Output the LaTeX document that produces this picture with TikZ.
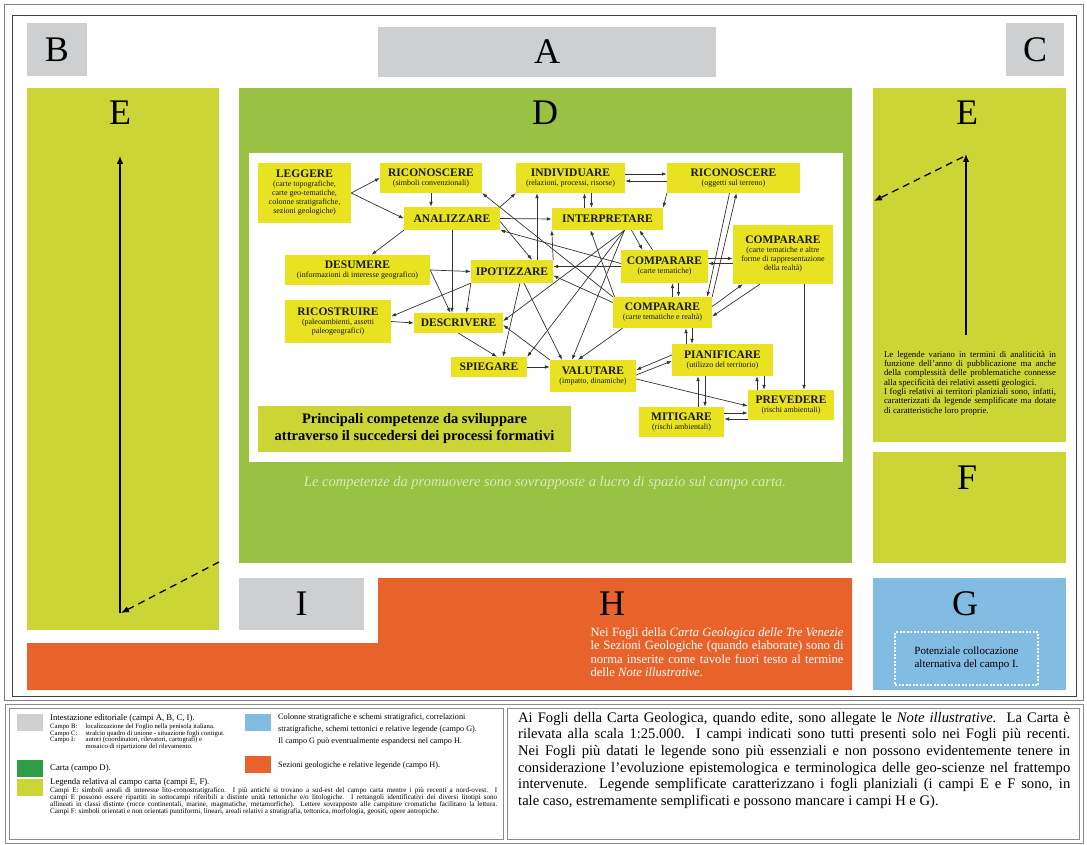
\documentclass[tikz,border=0pt]{standalone}
\usepackage{fontspec}
\setmainfont{Liberation Serif}
\usetikzlibrary{arrows.meta}

\definecolor{campogrigio}{HTML}{CDCFD0}
\definecolor{campolegenda}{HTML}{CCD536}
\definecolor{campocarta}{HTML}{99C143}
\definecolor{camposezioni}{HTML}{E8632C}
\definecolor{campocolonne}{HTML}{82BCE3}
\definecolor{giallo}{HTML}{E8E220}
\definecolor{verdecarta}{HTML}{2E9D45}

\newcommand{\verbo}[1]{{\fontsize{11.5}{13}\selectfont\bfseries #1}}

\tikzset{
  campo/.style={inner sep=0pt, outer sep=0pt},
  lettera/.style={font=\fontsize{36}{36}\selectfont, inner sep=0pt},
  competenza/.style={fill=giallo, inner sep=1pt, align=center, text=black!90, font=\fontsize{8}{9}\selectfont},
  legame/.style={->, draw=black!80, line width=0.7pt},
  frecciaE/.style={-{Latex[length=8pt,width=6.5pt]}, line width=1.3pt},
  tassello/.style={minimum width=26pt, minimum height=17pt, inner sep=0pt},
  didascalia/.style={anchor=north west, inner sep=0pt, align=left},
}

\begin{document}
\begin{tikzpicture}[x=1pt, y=-1pt, >={Latex[length=5pt,width=3.6pt]}]
\useasboundingbox (0,0) rectangle (1087,845);
\fill[white] (0,0) rectangle (1087,845);

% cornice
\draw[black!50, line width=0.8pt] (4,4) rectangle (1083,700);
\draw[black!75, line width=1pt] (12,16) rectangle (1076,696);

% campi del foglio
\node[campo, fill=campogrigio, minimum width=60pt, minimum height=53pt, lettera] (B) at (57,49.5) {B};
\node[campo, fill=campogrigio, minimum width=338pt, minimum height=50pt, lettera] (A) at (547,52) {A};
\node[campo, fill=campogrigio, minimum width=58pt, minimum height=53pt, lettera] (C) at (1035,49.5) {C};
\node[campo, fill=campolegenda, minimum width=192pt, minimum height=542pt] (Esx) at (123,359) {};
\node[campo, fill=campocarta, minimum width=613pt, minimum height=475pt] (D) at (545.5,325.5) {};
\node[campo, fill=white, minimum width=594pt, minimum height=309pt] (pannello) at (546,307.5) {};
\node[campo, fill=campolegenda, minimum width=193pt, minimum height=354pt] (Edx) at (969.5,265) {};
\node[campo, fill=campolegenda, minimum width=193pt, minimum height=111pt] (F) at (969.5,507.5) {};
\node[campo, fill=campogrigio, minimum width=125pt, minimum height=52pt, lettera] (I) at (301.5,604) {I};
\fill[camposezioni] (378,578) -- (852,578) -- (852,690) -- (27,690) -- (27,643) -- (378,643) -- cycle;
\node[campo, fill=campocolonne, minimum width=193pt, minimum height=112pt] (G) at (969.5,634) {};

\node[lettera] (letteraEsx) at (120,113) {E};
\node[lettera] (letteraD) at (545,113) {D};
\node[lettera] (letteraEdx) at (967,113) {E};
\node[lettera] (letteraF) at (967,478) {F};
\node[lettera] (letteraH) at (612,604) {H};
\node[lettera] (letteraG) at (965,604) {G};

% frecce nei campi E
\coordinate (EsxBasso) at (120,613);
\coordinate (EsxAlto) at (120,156);
\coordinate (EsxBordo) at (219,562);
\draw[frecciaE] (EsxBasso) -- (EsxAlto);
\draw[frecciaE, dash pattern=on 7pt off 5pt] (EsxBordo) -- ([xshift=1pt]EsxBasso);
\coordinate (EdxBasso) at (966,335);
\coordinate (EdxAlto) at (966,154);
\coordinate (EdxBordo) at (874,201);
\draw[frecciaE] (EdxBasso) -- (EdxAlto);
\draw[frecciaE, dash pattern=on 7pt off 5pt] ([xshift=-3pt,yshift=-3pt]EdxAlto) -- (EdxBordo);

% competenze
\node[competenza, minimum width=93pt, minimum height=60pt] (leggere) at (304.5,193) {\verbo{LEGGERE}\\(carte topografiche,\\carte geo-tematiche,\\colonne stratigrafiche,\\sezioni geologiche)};
\node[competenza, minimum width=102pt, minimum height=30pt] (riconoscereA) at (431,178) {\verbo{RICONOSCERE}\\(simboli convenzionali)};
\node[competenza, minimum width=96pt, minimum height=23pt] (analizzare) at (452,218.5) {\verbo{ANALIZZARE}};
\node[competenza, minimum width=109pt, minimum height=30pt] (individuare) at (570.5,178) {\verbo{INDIVIDUARE}\\(relazioni, processi, risorse)};
\node[competenza, minimum width=133pt, minimum height=30pt] (riconoscereB) at (733.5,178) {\verbo{RICONOSCERE}\\(oggetti sul terreno)};
\node[competenza, minimum width=111pt, minimum height=22pt] (interpretare) at (607.5,219) {\verbo{INTERPRETARE}};
\node[competenza, minimum width=100pt, minimum height=59pt] (comparareA) at (783,254.5) {\verbo{COMPARARE}\\(carte tematiche e altre\\forme di rappresentazione\\della realtà)};
\node[competenza, minimum width=145pt, minimum height=30pt] (desumere) at (357.5,270) {\verbo{DESUMERE}\\(informazioni di interesse geografico)};
\node[competenza, minimum width=82pt, minimum height=23pt] (ipotizzare) at (512,271.5) {\verbo{IPOTIZZARE}};
\node[competenza, minimum width=87pt, minimum height=33pt] (comparareB) at (664.5,266.5) {\verbo{COMPARARE}\\(carte tematiche)};
\node[competenza, minimum width=99pt, minimum height=31pt] (comparareC) at (662.5,312.5) {\verbo{COMPARARE}\\(carte tematiche e realtà)};
\node[competenza, minimum width=106pt, minimum height=43pt] (ricostruire) at (338,321.5) {\verbo{RICOSTRUIRE}\\(paleoambienti, assetti\\paleogeografici)};
\node[competenza, minimum width=89pt, minimum height=20pt] (descrivere) at (458.5,323) {\verbo{DESCRIVERE}};
\node[competenza, minimum width=76pt, minimum height=20pt] (spiegare) at (489,367) {\verbo{SPIEGARE}};
\node[competenza, minimum width=86pt, minimum height=32pt] (valutare) at (593,376) {\verbo{VALUTARE}\\(impatto, dinamiche)};
\node[competenza, minimum width=101pt, minimum height=32pt] (pianificare) at (722.5,360) {\verbo{PIANIFICARE}\\(utilizzo del territorio)};
\node[competenza, minimum width=86pt, minimum height=30pt] (prevedere) at (791,405) {\verbo{PREVEDERE}\\(rischi ambientali)};
\node[competenza, minimum width=85pt, minimum height=30pt] (mitigare) at (681.5,422) {\verbo{MITIGARE}\\(rischi ambientali)};
\node[campo, fill=campolegenda, minimum width=313pt, minimum height=46pt, align=center, font=\fontsize{14.5}{17}\selectfont\bfseries] (titolo) at (414.5,429) {Principali competenze da sviluppare\\attraverso il succedersi dei processi formativi};

% legami
\draw[legame] (leggere.east) -- (riconoscereA.west);
\draw[legame] (leggere.east) -- (analizzare.west);
\draw[legame] (riconoscereA.south) -- (riconoscereA.south |- analizzare.north);
\draw[legame] (analizzare.south west) -- ([xshift=14pt]desumere.north);
\draw[legame] (analizzare.south) -- (analizzare.south |- descrivere.north);
\draw[legame] (analizzare.north east) -- (individuare.south west);
\draw[legame] (analizzare.east) -- (interpretare.west);
\draw[legame] ([yshift=-3pt]analizzare.east) -- ([xshift=20pt]ipotizzare.north);
\draw[legame] ([yshift=3pt]comparareB.west) -- (analizzare.south east);
\draw[legame] (comparareC.north west) -- (riconoscereA.south east);
\draw[legame] (desumere.east) -- (ipotizzare.west);
\draw[legame] (desumere.east) -- ([xshift=-8pt]descrivere.north);
\draw[legame] (ipotizzare.south west) -- ([xshift=8pt]descrivere.north);
\draw[legame] (ipotizzare.south west) -- ([yshift=5pt]ricostruire.east);
\draw[legame] (ricostruire.east) -- (descrivere.west);
\draw[legame] ([xshift=17pt]interpretare.south) -- ([yshift=2pt]descrivere.east);
\draw[legame] (valutare.north west) -- ([yshift=-2pt]descrivere.east);
\draw[legame] (descrivere.south) -- ([xshift=8pt]spiegare.north);
\draw[legame] (spiegare.east) -- (spiegare.east -| valutare.west);
\draw[legame] ([xshift=25pt]ipotizzare.north) -- ([xshift=25pt]ipotizzare.north |- individuare.south);
\draw[legame] (ipotizzare.north east) -- (interpretare.south west);
\draw[legame] ([xshift=14pt]individuare.south |- interpretare.north) -- ([xshift=14pt]individuare.south);
\draw[legame] ([xshift=21pt]individuare.south) -- ([xshift=21pt]individuare.south |- interpretare.north);
\draw[legame] ([yshift=4pt]individuare.east) -- ([yshift=4pt]individuare.east -| riconoscereB.west);
\draw[legame] ([yshift=-3pt]individuare.east -| riconoscereB.west) -- ([yshift=-3pt]individuare.east);
\draw[legame] (riconoscereB.south west) -- (interpretare.north east);
\draw[legame] ([xshift=-4pt]riconoscereB.south) -- ([xshift=-5pt]comparareC.north east);
\draw[legame] (comparareC.north east) -- ([xshift=3pt]riconoscereB.south);
\draw[legame] ([yshift=8pt]comparareB.east) -- ([yshift=8pt]comparareB.east -| comparareA.west);
\draw[legame] ([yshift=3pt]comparareB.east -| comparareA.west) -- ([yshift=3pt]comparareB.east);
\draw[legame] ([xshift=8pt]comparareB.south |- comparareC.north) -- ([xshift=8pt]comparareB.south);
\draw[legame] ([xshift=14pt]comparareB.south) -- ([xshift=14pt]comparareB.south |- comparareC.north);
\draw[legame] ([yshift=6pt]comparareC.east) -- ([xshift=10pt]comparareA.south west);
\draw[legame] ([xshift=27pt]comparareA.south west) -- ([yshift=-4pt]comparareC.east);
\draw[legame] ([xshift=-12pt]comparareB.north) -- ([xshift=32pt]interpretare.south);
\draw[legame] ([xshift=24pt]interpretare.south) -- ([xshift=-22pt]comparareB.north);
\draw[legame] (comparareB.west) -- (comparareB.west -| ipotizzare.east);
\draw[legame] ([yshift=10pt]comparareC.west) -- ([yshift=-4pt]ipotizzare.east);
\draw[legame] ([xshift=-48pt]comparareC.north) -- ([xshift=-17pt]interpretare.south);
\draw[legame] ([xshift=17pt]interpretare.south) -- (spiegare.north east);
\draw[legame] ([xshift=17pt]interpretare.south) -- ([xshift=-21pt]valutare.north);
\draw[legame] ([xshift=8pt]ipotizzare.south) -- ([xshift=14pt]spiegare.north);
\draw[legame] ([xshift=12pt]ipotizzare.south) -- ([xshift=-31pt]valutare.north);
\draw[legame] ([xshift=-40pt]comparareC.south) -- ([xshift=-15pt]valutare.north);
\draw[legame] ([yshift=5pt]pianificare.west) -- ([yshift=6pt]valutare.east);
\draw[legame] ([yshift=1pt]valutare.east) -- ([yshift=-1pt]pianificare.west);
\draw[legame] ([yshift=-3pt]valutare.east) -- ([yshift=-1pt]prevedere.west);
\draw[legame] ([xshift=23.5pt]comparareC.south |- pianificare.north) -- ([xshift=23.5pt]comparareC.south);
\draw[legame] ([xshift=29.5pt]comparareC.south) -- ([xshift=29.5pt]comparareC.south |- pianificare.north);
\draw[legame] ([xshift=16.5pt]mitigare.north) -- ([xshift=16.5pt]mitigare.north |- pianificare.south);
\draw[legame] ([xshift=23.5pt]mitigare.north |- pianificare.south) -- ([xshift=23.5pt]mitigare.north);
\draw[legame] ([xshift=-34pt]prevedere.north) -- ([xshift=-34pt]prevedere.north |- pianificare.south);
\draw[legame] ([xshift=-27pt]prevedere.north |- pianificare.south) -- ([xshift=-27pt]prevedere.north);
\draw[legame] ([yshift=9pt]mitigare.east) -- ([yshift=9pt]mitigare.east -| prevedere.west);
\draw[legame] ([yshift=3pt]mitigare.east -| prevedere.west) -- ([yshift=3pt]mitigare.east);
\draw[legame] ([xshift=21pt]comparareA.south) -- ([xshift=21pt]comparareA.south |- prevedere.north);

% testi nei campi
\node[font=\fontsize{14.5}{14.5}\selectfont\itshape, text=white!65!campocarta] (notaD) at (545,483) {Le competenze da promuovere sono sovrapposte a lucro di spazio sul campo carta.};
\node[anchor=north, text width=172pt, align=justify, font=\fontsize{8.8}{9.3}\selectfont, inner sep=0pt] (testoE) at (970,351) {\tolerance=9999 Le legende variano in termini di analiticità in\linebreak funzione dell'anno di pubblicazione ma anche\linebreak della complessità delle problematiche connesse\linebreak alla specificità dei relativi assetti geologici.\\I fogli relativi ai territori planiziali sono, infatti,\linebreak caratterizzati da legende semplificate ma dotate\linebreak di caratteristiche loro proprie.};
\node[text width=253pt, align=justify, text=white, font=\fontsize{12.6}{13.5}\selectfont, inner sep=0pt] (testoH) at (717,652) {\tolerance=9999 Nei Fogli della \textit{Carta Geologica delle Tre Venezie}\linebreak le Sezioni Geologiche (quando elaborate) sono di\linebreak norma inserite come tavole fuori testo al termine\linebreak delle \textit{Note illustrative}.};
\node[draw=white, line width=1.5pt, dash pattern=on 2pt off 1.5pt, minimum width=143pt, minimum height=53pt, align=center, font=\fontsize{11}{13}\selectfont] (alternativa) at (966.5,658.5) {Potenziale collocazione\\alternativa del campo I.};

% legenda
\draw[black!45, line width=0.8pt] (5,704) rectangle (1083,843);
\draw[black!45] (9,708) rectangle (503,839);
\draw[black!45] (507,708) rectangle (1079,839);

\node[tassello, fill=campogrigio] (tasGrigio) at (30,722.5) {};
\node[tassello, fill=verdecarta] (tasCarta) at (30,768) {};
\node[tassello, fill=campolegenda] (tasLegenda) at (30,787.5) {};
\node[tassello, fill=campocolonne] (tasColonne) at (258,722.5) {};
\node[tassello, fill=camposezioni] (tasSezioni) at (258,764.5) {};

\node[didascalia, font=\fontsize{8.7}{9}\selectfont] (txtGrigio) at (50,714) {Intestazione editoriale (campi A, B, C, I).};
\node[didascalia, font=\fontsize{6.7}{6.5}\selectfont] (txtCampi) at (50,723.5) {\begin{tabular}{@{}l@{\hspace{8pt}}l@{}}Campo B: & localizzazione del Foglio nella penisola italiana.\\Campo C: & stralcio quadro di unione - situazione fogli contigui.\\Campo I: & autori (coordinatori, rilevatori, cartografi) e\\ & mosaico di ripartizione del rilevamento.\end{tabular}};
\node[didascalia, font=\fontsize{8.7}{9}\selectfont] (txtCarta) at (50,764) {Carta (campo D).};
\node[didascalia, font=\fontsize{8.7}{9}\selectfont] (txtLegenda) at (50,778) {Legenda relativa al campo carta (campi E, F).};
\node[didascalia, text width=447pt, align=justify, font=\fontsize{7.1}{7.2}\selectfont] (txtCampiE) at (50,787) {\tolerance=9999 Campi E: simboli areali di interesse lito-cronostratigrafico. I più antichi si trovano a sud-est del campo carta mentre i più recenti a nord-ovest. I\linebreak campi E possono essere ripartiti in sottocampi riferibili a distinte unità tettoniche e/o litologiche. I rettangoli identificativi dei diversi litotipi sono\linebreak allineati in classi distinte (rocce continentali, marine, magmatiche, metamorfiche). Lettere sovrapposte alle campiture cromatiche facilitano la lettura.\linebreak Campi F: simboli orientati e non orientati puntiformi, lineari, areali relativi a stratigrafia, tettonica, morfologia, geositi, opere antropiche.};
\node[didascalia, font=\fontsize{8.2}{12}\selectfont] (txtColonne) at (278,714) {Colonne stratigrafiche e schemi stratigrafici, correlazioni\\stratigrafiche, schemi tettonici e relative legende (campo G).\\Il campo G può eventualmente espandersi nel campo H.};
\node[didascalia, font=\fontsize{8.2}{9}\selectfont] (txtSezioni) at (278,762) {Sezioni geologiche e relative legende (campo H).};

\node[didascalia, text width=552pt, align=justify, font=\fontsize{14.6}{16.6}\selectfont] (txtNote) at (518,712) {\tolerance=9999 Ai Fogli della Carta Geologica, quando edite, sono allegate le \textit{Note illustrative.}\ \ La Carta è\linebreak rilevata alla scala 1:25.000. I campi indicati sono tutti presenti solo nei Fogli più recenti.\linebreak Nei Fogli più datati le legende sono più essenziali e non possono evidentemente tenere in\linebreak considerazione l'evoluzione epistemologica e terminologica delle geo-scienze nel frattempo\linebreak intervenute. Legende semplificate caratterizzano i fogli planiziali (i campi E e F sono, in\linebreak tale caso, estremamente semplificati e possono mancare i campi H e G).};
\end{tikzpicture}
\end{document}
